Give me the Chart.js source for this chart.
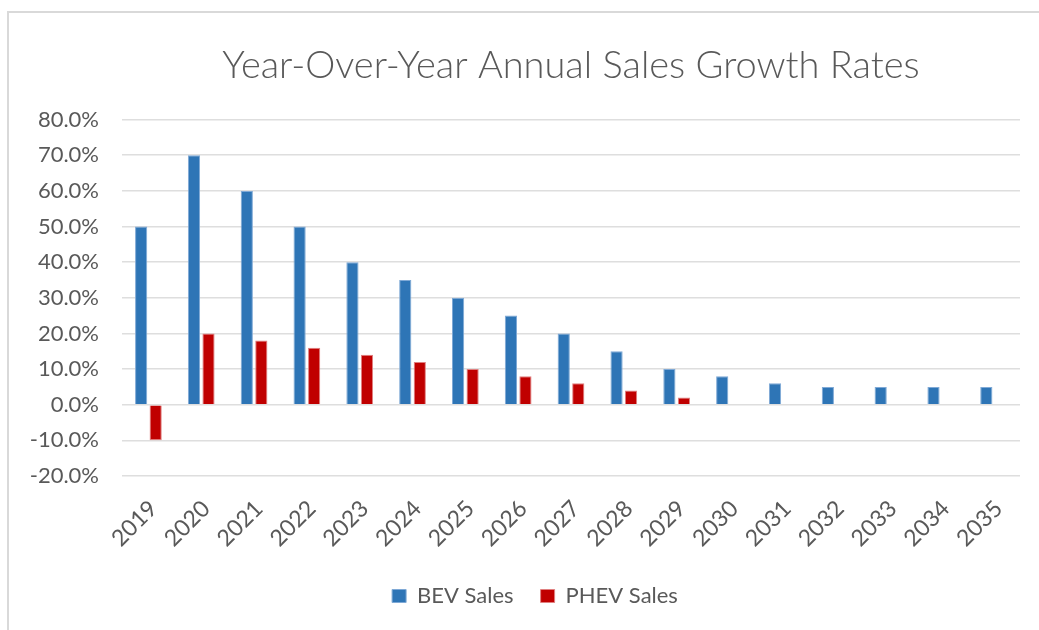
<!DOCTYPE html>
<html>
<head>
<meta charset="utf-8">
<script src="https://cdn.jsdelivr.net/npm/chart.js@4.4.1/dist/chart.umd.min.js"></script>
<style>
  html, body { margin: 0; padding: 0; background: #ffffff; }
  #wrap { position: relative; width: 1039px; height: 630px; overflow: hidden; }
  #frame { position: absolute; left: 7px; top: 11px; width: 1100px; height: 700px;
           border-top: 2px solid #d9d9d9; border-left: 2px solid #d9d9d9; }
  canvas { position: absolute; left: 0; top: 0; }
</style>
</head>
<body>
<div id="wrap">
  <div id="frame"></div>
  <canvas id="c" width="1039" height="630"></canvas>
</div>
<script>
const categories = ['2019','2020','2021','2022','2023','2024','2025','2026','2027','2028','2029','2030','2031','2032','2033','2034','2035'];
const bevSales  = [50, 70, 60, 50, 40, 35, 30, 25, 20, 15, 10, 8, 6, 5, 5, 5, 5];
const phevSales = [-10, 20, 18, 16, 14, 12, 10, 8, 6, 4, 2, null, null, null, null, null, null];
const yTicks = { min: -20, max: 80, step: 10 };
const chartTitle = 'Year-Over-Year Annual Sales Growth Rates';

const textColor = '#595959';
const fontFamily = 'Lato, "Open Sans", sans-serif';
const legendFontSize = 22;
const legendPad = 27;

// moves the legend so it sits where the reference has it
const legendShift = {
  id: 'legendShift',
  afterLayout(chart) {
    const l = chart.legend;
    if (!l) return;
    l.left += 25; l.right += 25;
    const centre = l.top + legendPad + legendFontSize / 2;
    const dy = 596 - centre;
    l.top += dy; l.bottom += dy;
  }
};

new Chart(document.getElementById('c'), {
  type: 'bar',
  data: {
    labels: categories,
    datasets: [
      { label: 'BEV Sales', data: bevSales, backgroundColor: '#2E75B6', borderColor: '#7fa9d6', borderWidth: 1 },
      { label: 'PHEV Sales', data: phevSales, backgroundColor: '#C00000', borderColor: '#e08080', borderWidth: 1 }
    ]
  },
  plugins: [legendShift],
  options: {
    responsive: false,
    animation: false,
    categoryPercentage: 0.55,
    barPercentage: 0.84,
    layout: { padding: { left: 0, right: 19, top: 0, bottom: 0 } },
    plugins: {
      title: {
        display: true,
        text: chartTitle,
        fullSize: false,
        color: textColor,
        font: { family: fontFamily, size: 38, weight: 300 },
        padding: { top: 43, bottom: 31 }
      },
      legend: {
        position: 'bottom',
        labels: {
          color: textColor,
          font: { family: fontFamily, size: legendFontSize },
          boxWidth: 14,
          boxHeight: 13,
          padding: legendPad
        }
      },
      tooltip: { enabled: false }
    },
    scales: {
      x: {
        grid: { display: false },
        border: { display: false },
        ticks: {
          color: textColor,
          font: { family: fontFamily, size: 23 },
          maxRotation: 45,
          minRotation: 45,
          padding: 11,
          labelOffset: 5
        },
        afterFit(scale) { scale.height = 95; }
      },
      y: {
        min: yTicks.min,
        max: yTicks.max,
        border: { display: false },
        grid: { color: '#dedede', lineWidth: 1.6, drawTicks: false },
        ticks: {
          stepSize: yTicks.step,
          color: textColor,
          font: { family: fontFamily, size: 22 },
          padding: 23,
          callback: (v) => v.toFixed(1) + '%'
        },
        afterFit(scale) { scale.width = 122; }
      }
    }
  }
});
</script>
</body>
</html>
